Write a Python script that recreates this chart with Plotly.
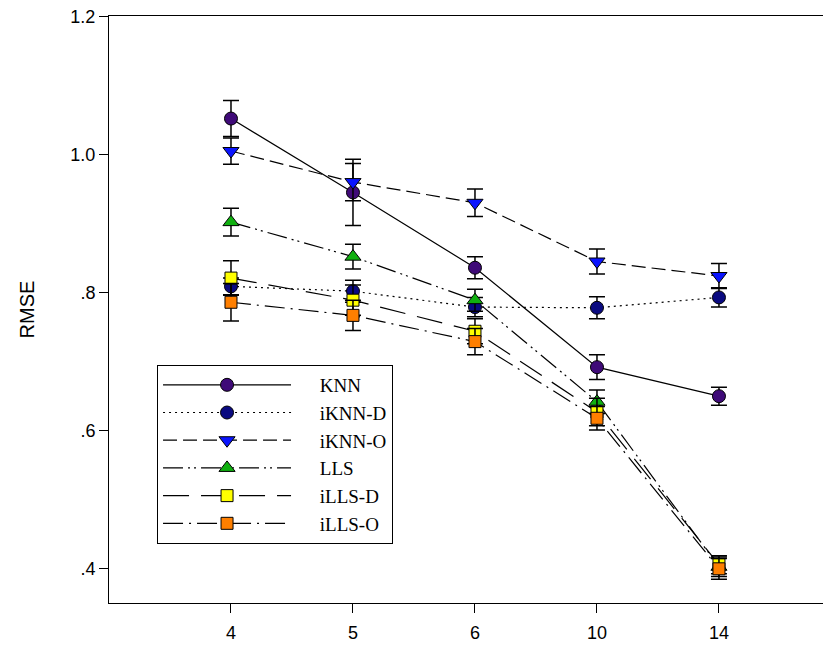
import plotly.graph_objects as go

categories = ["4", "5", "6", "10", "14"]

knn = [1.052, 0.945, 0.836, 0.692, 0.650]
knn_err = [0.026, 0.048, 0.016, 0.018, 0.013]

iknn_d = [0.809, 0.802, 0.779, 0.778, 0.793]
iknn_d_err = [0.012, 0.016, 0.014, 0.016, 0.014]

iknn_o = [1.005, 0.960, 0.930, 0.845, 0.824]
iknn_o_err = [0.019, 0.027, 0.020, 0.018, 0.018]

lls = [0.902, 0.852, 0.789, 0.642, 0.403]
lls_err = [0.020, 0.018, 0.016, 0.017, 0.014]

ills_d = [0.821, 0.789, 0.744, 0.627, 0.406]
ills_d_err = [0.025, 0.022, 0.018, 0.020, 0.013]

ills_o = [0.786, 0.767, 0.729, 0.618, 0.400]
ills_o_err = [0.027, 0.022, 0.019, 0.017, 0.015]

ytick_vals = [0.4, 0.6, 0.8, 1.0, 1.2]
ytick_text = [".4", ".6", ".8", "1.0", "1.2"]

series = [
    ("KNN", knn, knn_err, "circle", "#3f0a78", "solid", 13),
    ("iKNN-D", iknn_d, iknn_d_err, "circle", "#0a0a80", "2px,4px", 13),
    ("iKNN-O", iknn_o, iknn_o_err, "triangle-down", "#0a14ff", "14px,6px", 14),
    ("LLS", lls, lls_err, "triangle-up", "#10b010", "20px,5px,2px,4px,2px,5px", 14),
    ("iLLS-D", ills_d, ills_d_err, "square", "#ffff00", "26px,12px", 12),
    ("iLLS-O", ills_o, ills_o_err, "square", "#ff7f00", "20px,6px,2px,6px", 12),
]

pad = "\u00a0" * 5

fig = go.Figure()
for name, vals, errs, sym, color, dash, size in series:
    fig.add_trace(go.Scatter(
        x=categories, y=vals, name=pad + name, mode="lines+markers",
        line=dict(color="black", width=1.2, dash=dash),
        marker=dict(symbol=sym, size=size, color=color,
                    line=dict(color="black", width=1)),
        error_y=dict(type="data", array=errs, visible=True,
                     color="black", thickness=1.5, width=8),
    ))

fig.update_layout(
    width=831, height=647,
    margin=dict(l=101, r=0, t=8, b=52, autoexpand=False),
    paper_bgcolor="white", plot_bgcolor="white",
    font=dict(family="Liberation Sans, Arial, sans-serif", color="black", size=18),
    showlegend=True,
    legend=dict(
        x=0.0658, y=0.4055, xanchor="left", yanchor="top",
        bgcolor="white", bordercolor="black", borderwidth=1,
        font=dict(family="Liberation Serif, Times New Roman, serif", size=19, color="black"),
        itemwidth=128, traceorder="normal", tracegroupgap=0,
    ),
    xaxis=dict(
        type="category", range=[-1, 4.984],
        showline=True, linecolor="black", linewidth=1, mirror=True,
        ticks="outside", ticklen=9, tickcolor="black", tickwidth=1,
        showgrid=False, zeroline=False,
        tickfont=dict(size=18), ticklabelstandoff=4,
        ticklabeloverflow="allow",
    ),
    yaxis=dict(
        range=[0.3505, 1.2005],
        tickvals=ytick_vals, ticktext=ytick_text,
        showline=True, linecolor="black", linewidth=1,
        ticks="outside", ticklen=9, tickcolor="black", tickwidth=1,
        showgrid=False, zeroline=False, automargin=False,
        tickfont=dict(size=18), ticklabeloverflow="allow",
        title=dict(text="RMSE", font=dict(size=20), standoff=30),
    ),
)

fig.write_html("out.html")
